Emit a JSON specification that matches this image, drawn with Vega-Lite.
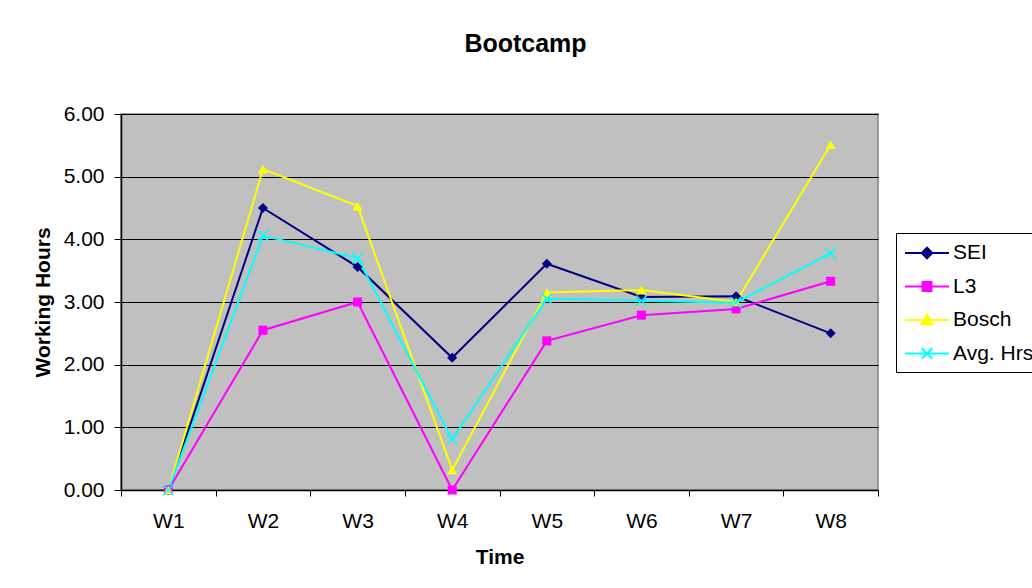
{
  "$schema": "https://vega.github.io/schema/vega-lite/v6.json",
  "width": 757,
  "height": 376,
  "autosize": "none",
  "padding": {"left": 121, "top": 114, "right": 154, "bottom": 98},
  "background": "white",
  "title": {
    "text": "Bootcamp",
    "font": "Liberation Sans",
    "fontSize": 25,
    "fontWeight": "bold",
    "color": "black",
    "anchor": "middle",
    "frame": "group",
    "dx": 26,
    "offset": 46
  },
  "config": {
    "view": {"fill": "#C0C0C0", "stroke": "#808080", "strokeWidth": 1.5},
    "axis": {
      "labelFont": "Liberation Sans",
      "labelFontSize": 21,
      "labelColor": "black",
      "titleFont": "Liberation Sans",
      "titleFontSize": 21,
      "titleFontWeight": "bold",
      "titleColor": "black",
      "domainColor": "black",
      "domainWidth": 1.5,
      "tickColor": "black",
      "tickWidth": 1,
      "gridColor": "black",
      "gridWidth": 1,
      "gridOpacity": 1
    }
  },
  "data": {
    "values": [
      {"week": "W1", "series": "SEI", "hours": 0},
      {"week": "W2", "series": "SEI", "hours": 4.50},
      {"week": "W3", "series": "SEI", "hours": 3.56},
      {"week": "W4", "series": "SEI", "hours": 2.11},
      {"week": "W5", "series": "SEI", "hours": 3.61},
      {"week": "W6", "series": "SEI", "hours": 3.08},
      {"week": "W7", "series": "SEI", "hours": 3.09},
      {"week": "W8", "series": "SEI", "hours": 2.50},
      {"week": "W1", "series": "L3", "hours": 0},
      {"week": "W2", "series": "L3", "hours": 2.55},
      {"week": "W3", "series": "L3", "hours": 3.00},
      {"week": "W4", "series": "L3", "hours": 0},
      {"week": "W5", "series": "L3", "hours": 2.38},
      {"week": "W6", "series": "L3", "hours": 2.79},
      {"week": "W7", "series": "L3", "hours": 2.89},
      {"week": "W8", "series": "L3", "hours": 3.33},
      {"week": "W1", "series": "Bosch", "hours": 0},
      {"week": "W2", "series": "Bosch", "hours": 5.12},
      {"week": "W3", "series": "Bosch", "hours": 4.53},
      {"week": "W4", "series": "Bosch", "hours": 0.32},
      {"week": "W5", "series": "Bosch", "hours": 3.15},
      {"week": "W6", "series": "Bosch", "hours": 3.19},
      {"week": "W7", "series": "Bosch", "hours": 3.00},
      {"week": "W8", "series": "Bosch", "hours": 5.51},
      {"week": "W1", "series": "Avg. Hrs", "hours": 0},
      {"week": "W2", "series": "Avg. Hrs", "hours": 4.06},
      {"week": "W3", "series": "Avg. Hrs", "hours": 3.70},
      {"week": "W4", "series": "Avg. Hrs", "hours": 0.81},
      {"week": "W5", "series": "Avg. Hrs", "hours": 3.05},
      {"week": "W6", "series": "Avg. Hrs", "hours": 3.02},
      {"week": "W7", "series": "Avg. Hrs", "hours": 2.99},
      {"week": "W8", "series": "Avg. Hrs", "hours": 3.78}
    ]
  },
  "encoding": {
    "x": {
      "field": "week",
      "type": "nominal",
      "bandPosition": 0.5,
      "scale": {"type": "band", "paddingInner": 0, "paddingOuter": 0},
      "axis": {
        "title": "Time",
        "labelAngle": 0,
        "tickBand": "extent",
        "tickSize": 6,
        "labelPadding": 14,
        "titlePadding": 15,
        "grid": false
      }
    },
    "y": {
      "field": "hours",
      "type": "quantitative",
      "scale": {"domain": [0, 6], "nice": false, "zero": true},
      "axis": {
        "title": "Working Hours",
        "values": [0, 1, 2, 3, 4, 5, 6],
        "format": ".2f",
        "tickSize": 7,
        "labelPadding": 10,
        "titlePadding": 10,
        "grid": true
      }
    }
  },
  "layer": [
    {
      "mark": {"type": "line", "strokeWidth": 2},
      "encoding": {
        "color": {
          "field": "series",
          "type": "nominal",
          "sort": ["SEI", "L3", "Bosch", "Avg. Hrs"],
          "scale": {
            "domain": ["SEI", "L3", "Bosch", "Avg. Hrs"],
            "range": ["#000080", "#FF00FF", "#FFFF00", "#00FFFF"]
          },
          "legend": {
            "title": null,
            "orient": "none",
            "legendX": 775,
            "legendY": 119,
            "padding": 8,
            "strokeColor": "black",
            "fillColor": "white",
            "symbolSize": 484,
            "symbolStrokeWidth": 2,
            "labelFont": "Liberation Sans",
            "labelFontSize": 21,
            "labelColor": "black",
            "labelOffset": 25,
            "rowPadding": 11.5,
            "labelLimit": 300,
            "encode": {
              "symbols": {
                "update": {
                  "shape": {"signal": "datum.value === 'SEI' ? 'M-1,0H3M0.52,0L1,-0.48L1.48,0L1,0.48Z' : datum.value === 'L3' ? 'M-1,0H3M0.6,-0.4H1.4V0.4H0.6Z' : datum.value === 'Bosch' ? 'M-1,0H3M1,-0.5L1.5,0.38L0.5,0.38Z' : 'M-1,0H3M0.52,-0.48L1.48,0.48M0.52,0.48L1.48,-0.48'"},
                  "fill": {"scale": "color", "field": "value"},
                  "stroke": {"scale": "color", "field": "value"},
                  "strokeWidth": {"value": 2},
                  "opacity": {"value": 1}
                }
              }
            }
          }
        }
      }
    },
    {
      "transform": [{"filter": "datum.series === 'SEI'"}],
      "mark": {"type": "point", "shape": "diamond", "filled": true, "size": 100, "color": "#000080", "opacity": 1}
    },
    {
      "transform": [{"filter": "datum.series === 'L3'"}],
      "mark": {"type": "point", "shape": "square", "filled": true, "size": 81, "color": "#FF00FF", "opacity": 1}
    },
    {
      "transform": [{"filter": "datum.series === 'Bosch'"}],
      "mark": {"type": "point", "shape": "triangle-up", "filled": true, "size": 100, "color": "#FFFF00", "opacity": 1}
    },
    {
      "transform": [{"filter": "datum.series === 'Avg. Hrs'"}],
      "mark": {"type": "point", "shape": "M-1,-1L1,1M-1,1L1,-1", "filled": false, "size": 110, "strokeWidth": 1.5, "color": "#00FFFF", "opacity": 1}
    }
  ]
}
